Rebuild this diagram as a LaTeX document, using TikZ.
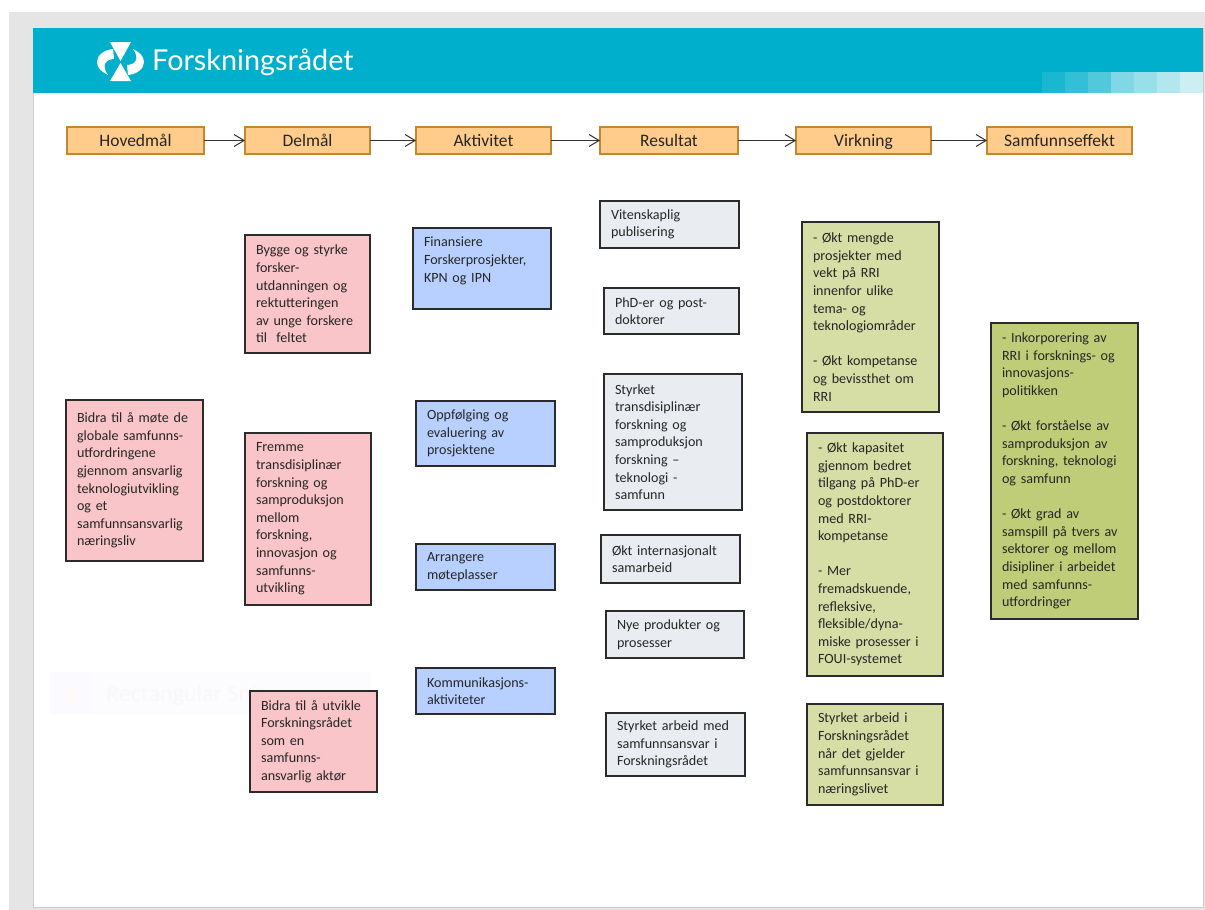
\documentclass[tikz,border=0pt]{standalone}
\usepackage{fontspec}
\setmainfont{Carlito}
\newfontfamily\logofont{Lato}
\usetikzlibrary{arrows.meta}
\definecolor{banner}{HTML}{00AFCB}
\definecolor{headfill}{HTML}{FFCC8C}
\definecolor{headline}{HTML}{C58630}
\definecolor{pinkfill}{HTML}{F9C5C8}
\definecolor{bluefill}{HTML}{B8D0FF}
\definecolor{greyfill}{HTML}{E9EDF1}
\definecolor{greenfill}{HTML}{D6DEA5}
\definecolor{olivefill}{HTML}{C0CD78}
\definecolor{boxline}{HTML}{2B2B2B}
\definecolor{ghosttext}{HTML}{F8F8F8}
\tikzset{
	box/.style args={#1,#2}{draw=boxline, line width=1.1pt, anchor=north west, align=left, minimum width=#1, minimum height=#2, text width=#1-22pt, inner xsep=11pt, inner ysep=0pt, outer sep=0pt, font=\fontsize{14.1}{17.6}\selectfont, text=black!85},
	pinkbox/.style={box={#1}, fill=pinkfill},
	bluebox/.style={box={#1}, fill=bluefill},
	greybox/.style={box={#1}, fill=greyfill},
	greenbox/.style={box={#1}, fill=greenfill},
	olivebox/.style={box={#1}, fill=olivefill},
	head/.style={draw=headline, fill=headfill, line width=1.1pt, anchor=north west, minimum height=27pt, inner sep=0pt, outer sep=0pt, text height=12pt, text depth=1pt, font=\fontsize{17.5}{18}\selectfont, text=black!85},
	flow/.style={-{Straight Barb[length=10pt,width=12pt]}, line width=1pt, draw=black!80}
}
\begin{document}
\begin{tikzpicture}[x=1pt,y=-1pt]
	\useasboundingbox (0,0) rectangle (1205,910);

	% Page
	\fill[white] (0,0) rectangle (1205,910);
	\fill[black!10] (9,12) rectangle (1205,910);
	\fill[white] (33,28) rectangle (1203,907);
	\draw[black!20, line width=1pt] (33,28) -- (33,907) -- (1203,907) -- (1203,28);

	% Banner
	\fill[banner] (33,28) rectangle (1203,93);
	\foreach \i/\t in {0/10,1/20,2/32,3/50,4/60,5/70,6/80}
	{
		\fill[white, opacity=0.\t] ({1042+\i*23},72) rectangle ({1065+\i*23},93);
	}

	% Logo
	\fill[white] (110,42) -- (131,42) -- (120.5,61) -- cycle;
	\fill[white] (120.5,63) -- (131,81) -- (110,81) -- cycle;
	\fill[white] (113,49) .. controls (103,50) and (97,56) .. (97,62) .. controls (97,68) and (102,72) .. (108,75) .. controls (105,71) and (104,67) .. (105,64) .. controls (106,61) and (110,59) .. (114,59) -- cycle;
	\fill[white] (128,75) .. controls (138,74) and (144,68) .. (144,62) .. controls (144,56) and (139,52) .. (133,49) .. controls (136,53) and (137,57) .. (136,60) .. controls (135,63) and (131,65) .. (127,65) -- cycle;
	\node[text=white, anchor=west, inner sep=0pt, font=\logofont\fontsize{28.8}{32}\selectfont] (logo) at (152,62) {Forskningsrådet};

	% Snip ghost
	\fill[blue!1] (50,672) rectangle (370,714);
	\fill[blue!2] (50,672) rectangle (92,714);
	\fill[red!2] (72,694) circle (7);
	\node[text=ghosttext, anchor=west, inner sep=0pt, font=\fontsize{24}{26}\selectfont] (ghost) at (106,695) {Rectangular Snip};

	% Headers
	\node[head, minimum width=137pt] (hoved) at (67,127) {Hovedmål};
	\node[head, minimum width=125pt] (del) at (245,127) {Delmål};
	\node[head, minimum width=135pt] (akt) at (416,127) {Aktivitet};
	\node[head, minimum width=138pt] (res) at (600,127) {Resultat};
	\node[head, minimum width=135pt] (virk) at (796,127) {Virkning};
	\node[head, minimum width=145pt] (sam) at (987,127) {Samfunnseffekt};

	\draw[flow] (hoved) -- (del);
	\draw[flow] (del) -- (akt);
	\draw[flow] (akt) -- (res);
	\draw[flow] (res) -- (virk);
	\draw[flow] (virk) -- (sam);

	% Hovedmal and delmal
	\node[pinkbox={137pt,161pt}] (mal) at (66,400) {Bidra til å møte de\\globale samfunns-\\utfordringene\\gjennom ansvarlig\\teknologiutvikling\\og et\\samfunnsansvarlig\\næringsliv};
	\node[pinkbox={125pt,118pt}] (bygge) at (245,235) {Bygge og styrke\\forsker-\\utdanningen og\\rektutteringen\\av unge forskere\\til\ \ feltet};
	\node[pinkbox={126pt,172pt}] (fremme) at (245,433) {Fremme\\transdisiplinær\\forskning og\\samproduksjon\\mellom\\forskning,\\innovasjon og\\samfunns-\\utvikling};
	\node[pinkbox={127pt,101pt}] (utvikle) at (250,691) {Bidra til å utvikle\\Forskningsrådet\\som en\\samfunns-\\ansvarlig aktør};

	% Aktivitet
	\node[bluebox={138pt,81pt}] (finans) at (413,228) {Finansiere\\Forskerprosjekter,\\KPN og IPN\\~};
	\node[bluebox={139pt,65pt}] (oppf) at (416,401) {Oppfølging og\\evaluering av\\prosjektene};
	\node[bluebox={139pt,46pt}] (arr) at (416,544) {Arrangere\\møteplasser};
	\node[bluebox={139pt,46pt}] (komm) at (416,668) {Kommunikasjons-\\aktiviteter};

	% Resultat
	\node[greybox={139pt,47pt}] (viten) at (600,201) {Vitenskaplig\\publisering};
	\node[greybox={135pt,46pt}] (phd) at (604,288) {PhD-er og post-\\doktorer};
	\node[greybox={138pt,136pt}] (trans) at (604,374) {Styrket\\transdisiplinær\\forskning og\\samproduksjon\\forskning --\\teknologi -\\samfunn};
	\node[greybox={139pt,48pt}] (intern) at (601,535) {Økt internasjonalt\\samarbeid};
	\node[greybox={138pt,47pt}] (nye) at (606,611) {Nye produkter og\\prosesser};
	\node[greybox={139pt,63pt}] (arbeid) at (606,713) {Styrket arbeid med\\samfunnsansvar i\\Forskningsrådet};

	% Virkning
	\node[greenbox={137pt,190pt}] (mengde) at (802,222) {- Økt mengde\\prosjekter med\\vekt på RRI\\innenfor ulike\\tema- og\\teknologiområder\\~\\- Økt kompetanse\\og bevissthet om\\RRI};
	\node[greenbox={136pt,243pt}] (kapasitet) at (807,433) {- Økt kapasitet\\gjennom bedret\\tilgang på PhD-er\\og postdoktorer\\med RRI-\\kompetanse\\~\\- Mer\\fremadskuende,\\refleksive,\\fleksible/dyna-\\miske prosesser i\\FOUI-systemet};
	\node[greenbox={136pt,101pt}] (naering) at (807,704) {Styrket arbeid i\\Forskningsrådet\\når det gjelder\\samfunnsansvar i\\næringslivet};

	% Samfunnseffekt
	\node[olivebox={147pt,296pt}] (effekt) at (991,323) {- Inkorporering av\\RRI i forsknings- og\\innovasjons-\\politikken\\~\\- Økt forståelse av\\samproduksjon av\\forskning, teknologi\\og samfunn\\~\\- Økt grad av\\samspill på tvers av\\sektorer og mellom\\disipliner i arbeidet\\med samfunns-\\utfordringer};
\end{tikzpicture}
\end{document}
